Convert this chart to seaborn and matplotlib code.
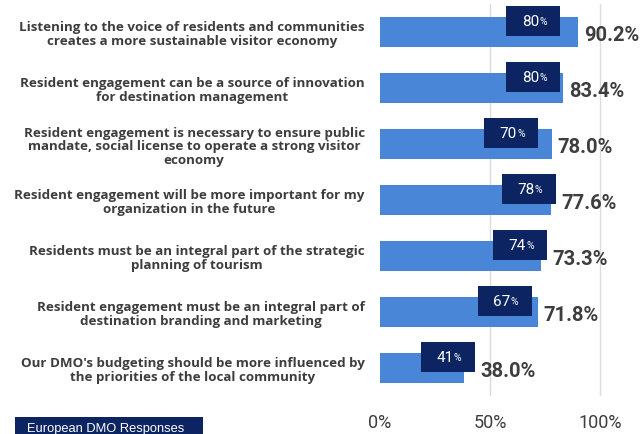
import matplotlib
matplotlib.use("Agg")
import matplotlib.pyplot as plt
import matplotlib.patches as mpatches
import seaborn as sns
import pandas as pd

statements = [
    "Listening to the voice of residents and communities\ncreates a more sustainable visitor economy",
    "Resident engagement can be a source of innovation\nfor destination management",
    "Resident engagement is necessary to ensure public\nmandate, social license to operate a strong visitor\neconomy",
    "Resident engagement will be more important for my\norganization in the future",
    "Residents must be an integral part of the strategic\nplanning of tourism",
    "Resident engagement must be an integral part of\ndestination branding and marketing",
    "Our DMO's budgeting should be more influenced by\nthe priorities of the local community",
]
all_responses = [90.2, 83.4, 78.0, 77.6, 73.3, 71.8, 38.0]
european_dmo = [80, 80, 70, 78, 74, 67, 41]
x_ticks = [0, 50, 100]
x_tick_labels = ["0%", "50%", "100%"]
legend_label = "European DMO Responses"

BAR_BLUE = "#4a86d8"
NAVY = "#0c2461"
TEXT_GREY = "#3d3d3d"

sns.set_theme(style="white")
plt.rcParams["font.family"] = ["Open Sans", "DejaVu Sans"]

df = pd.DataFrame({"statement": statements, "share": all_responses})

fig = plt.figure(figsize=(6.44, 4.35), dpi=100)
ax = fig.add_axes([380 / 644, 38 / 435, 260 / 644, 392 / 435])

sns.barplot(data=df, x="share", y="statement", color=BAR_BLUE, width=0.55,
            saturation=1, linewidth=0, ax=ax, zorder=2)

ax.set_xlim(0, 118.2)
ax.set_ylim(len(statements) - 0.5, -0.5)
ax.set_xlabel("")
ax.set_ylabel("")

# light vertical gridlines
for t in x_ticks[1:]:
    ax.axvline(t, color="#dcdcdc", lw=1, zorder=1)

ax.set_xticks(x_ticks)
ax.set_xticklabels(x_tick_labels, fontsize=13, color=TEXT_GREY,
                   family=["Roboto", "DejaVu Sans"])
ax.tick_params(axis="x", length=0, pad=12)
ax.tick_params(axis="y", length=0, pad=11)
for lbl in ax.get_yticklabels():
    lbl.set_multialignment("center")
    lbl.set_fontsize(9.6)
    lbl.set_fontweight("bold")
    lbl.set_color(TEXT_GREY)
    lbl.set_linespacing(1.05)

for s in ax.spines.values():
    s.set_visible(False)

# European DMO markers: dark boxes ending just past the DMO value
box_w = 24.5
box_h = 0.54
box_end = [v + 2 for v in european_dmo]
for i, v in enumerate(european_dmo):
    ax.barh(i - 0.2, box_w, left=box_end[i] - box_w, height=box_h, color=NAVY,
            linewidth=0, zorder=3)
    cx = box_end[i] - box_w / 2
    ax.annotate(f"{v}", (cx, i - 0.2), xytext=(4, 0), textcoords="offset points",
                ha="right", va="center", fontsize=11, color="white",
                family=["Roboto", "DejaVu Sans"], zorder=5)
    ax.annotate("%", (cx, i - 0.2), xytext=(4.3, -0.5), textcoords="offset points",
                ha="left", va="center", fontsize=7.5, color="white",
                family=["Roboto", "DejaVu Sans"], zorder=5)

# overall value labels just right of the bar (or its marker box)
for i, v in enumerate(all_responses):
    ax.annotate(f"{v:.1f}%", (max(v, box_end[i]), i), xytext=(4, -2),
                textcoords="offset points", ha="left", va="center",
                fontsize=14.5, fontweight="bold", color=TEXT_GREY,
                family=["Roboto", "DejaVu Sans"], zorder=4)

# legend tag in the lower-left corner
fig.patches.append(mpatches.Rectangle((15 / 644, 0), 188 / 644, 17 / 435,
                                      transform=fig.transFigure, color=NAVY,
                                      linewidth=0, zorder=1))
fig.text(27 / 644, 6 / 435, legend_label, color="white", fontsize=9.3,
         family=["Liberation Sans", "DejaVu Sans"], ha="left", va="center")

fig.savefig("out.png", dpi=100)
